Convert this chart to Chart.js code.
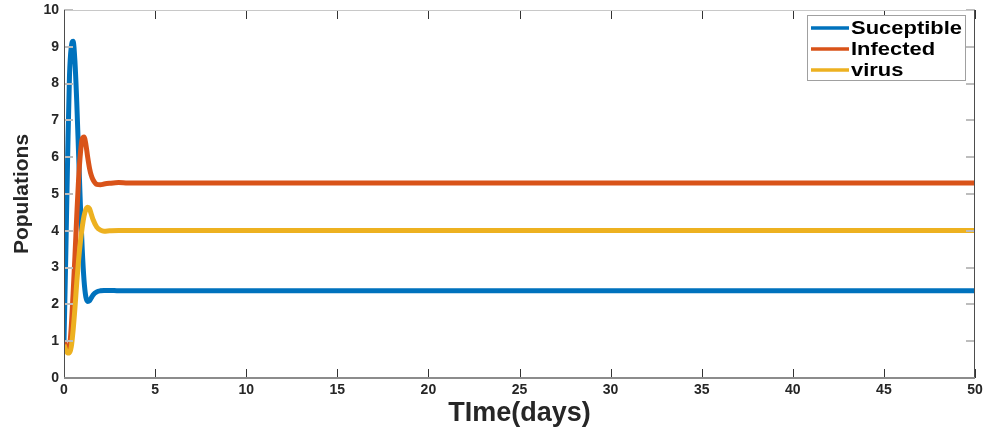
<!DOCTYPE html>
<html>
<head>
<meta charset="utf-8">
<script src="https://cdn.jsdelivr.net/npm/chart.js@4.4.1/dist/chart.umd.min.js"></script>
<style>
html,body{margin:0;padding:0;background:#fff;}
#wrap{width:985px;height:433px;}
</style>
</head>
<body>
<div id="wrap"><canvas id="c" width="985" height="433"></canvas></div>
<script>
// ---- data ----
const time = [0,0.1,0.2,0.3,0.4,0.5,0.6,0.7,0.8,0.9,1.0,1.1,1.2,1.3,1.4,1.5,1.6,1.8,2.0,2.2,2.5,3,3.5,4,5,10,20,30,40,50];
const susceptible = [1,3.4,6.0,8.2,9.0,9.15,8.6,7.5,6.1,4.7,3.5,2.65,2.2,2.08,2.1,2.18,2.26,2.34,2.37,2.38,2.38,2.37,2.37,2.37,2.37,2.37,2.37,2.37,2.37,2.37];
const infected    = [1,0.85,0.8,0.85,1.4,2.3,3.3,4.4,5.4,6.1,6.5,6.55,6.35,6.0,5.7,5.5,5.38,5.26,5.25,5.27,5.29,5.31,5.3,5.3,5.3,5.3,5.3,5.3,5.3,5.3];
const virus       = [0.9,0.75,0.68,0.68,0.85,1.3,1.9,2.6,3.2,3.7,4.1,4.4,4.58,4.64,4.6,4.45,4.3,4.1,4.02,3.99,4.0,4.01,4.01,4.01,4.01,4.01,4.01,4.01,4.01,4.01];
const seriesNames = ['Suceptible','Infected','virus'];
const seriesColors = ['#0072BD','#D95319','#EDB120'];
const xTicks = [0,5,10,15,20,25,30,35,40,45,50];
const yTicks = [0,1,2,3,4,5,6,7,8,9,10];

const FONT = '"Liberation Sans",Arial,Helvetica,sans-serif';

function pts(ys){ return time.map((t,i)=>({x:t,y:ys[i]})); }
const allSeries = [susceptible, infected, virus];

const boxPlugin = {
  id:'boxTicks',
  afterDatasetsDraw(chart){
    const ctx = chart.ctx, a = chart.chartArea;
    const xs = chart.scales.x, ys = chart.scales.y;
    ctx.save();
    // inward ticks
    ctx.lineWidth = 1;
    ctx.strokeStyle = '#333';
    xTicks.forEach(v=>{
      const px = Math.round(xs.getPixelForValue(v))+0.5;
      ctx.beginPath(); ctx.moveTo(px,a.bottom); ctx.lineTo(px,a.bottom-9); ctx.stroke();
      ctx.beginPath(); ctx.moveTo(px,a.top); ctx.lineTo(px,a.top+9); ctx.stroke();
    });
    ctx.strokeStyle = '#bdbdbd';
    ctx.lineWidth = 2;
    yTicks.forEach(v=>{
      const py = Math.round(ys.getPixelForValue(v));
      ctx.beginPath(); ctx.moveTo(a.left,py); ctx.lineTo(a.left+9,py); ctx.stroke();
      ctx.beginPath(); ctx.moveTo(a.right,py); ctx.lineTo(a.right-9,py); ctx.stroke();
    });
    // box
    ctx.lineWidth = 1;
    ctx.strokeStyle = '#c8c8c8';
    ctx.beginPath(); ctx.moveTo(a.left,a.top+0.5); ctx.lineTo(a.right,a.top+0.5); ctx.stroke();
    ctx.strokeStyle = '#4d4d4d';
    ctx.beginPath(); ctx.moveTo(a.right-0.5,a.top); ctx.lineTo(a.right-0.5,a.bottom); ctx.stroke();
    ctx.beginPath(); ctx.moveTo(a.left+0.5,a.top); ctx.lineTo(a.left+0.5,a.bottom); ctx.stroke();
    ctx.strokeStyle = '#8c8c8c';
    ctx.lineWidth = 2;
    ctx.beginPath(); ctx.moveTo(a.left,a.bottom); ctx.lineTo(a.right,a.bottom); ctx.stroke();

    // legend
    const lx = a.right - 168, ly = a.top + 5, lw = 158, lh = 65;
    ctx.fillStyle = '#fff';
    ctx.fillRect(lx,ly,lw,lh);
    ctx.strokeStyle = '#a0a0a0'; ctx.lineWidth = 1;
    ctx.strokeRect(lx+0.5,ly+0.5,lw,lh);
    ctx.textBaseline = 'middle';
    ctx.textAlign = 'left';
    seriesNames.forEach((n,i)=>{
      const yy = ly + 13 + i*21;
      ctx.strokeStyle = seriesColors[i]; ctx.lineWidth = 3.5;
      ctx.beginPath(); ctx.moveTo(lx+4,yy); ctx.lineTo(lx+42,yy); ctx.stroke();
      ctx.save();
      ctx.translate(lx+44, yy+1);
      ctx.scale(1.22,1);
      ctx.font = 'bold 18px ' + FONT;
      ctx.fillStyle = '#000';
      ctx.fillText(n, 0, 0);
      ctx.restore();
    });
    ctx.restore();
  }
};

new Chart(document.getElementById('c'), {
  type:'line',
  data:{
    datasets: allSeries.map((s,i)=>({
      label: seriesNames[i],
      data: pts(s),
      borderColor: seriesColors[i],
      backgroundColor: seriesColors[i],
      borderWidth: 5,
      pointRadius: 0,
      cubicInterpolationMode:'monotone',
      fill:false,
      order: 3-i
    }))
  },
  options:{
    responsive:false,
    animation:false,
    events:[],
    layout:{padding:{top:10,right:10,left:0,bottom:0}},
    plugins:{legend:{display:false},tooltip:{enabled:false}},
    scales:{
      x:{
        type:'linear', min:0, max:50,
        afterBuildTicks(scale){ scale.ticks = xTicks.map(v=>({value:v})); },
        afterFit(scale){ scale.height = 55; scale.paddingLeft = 0; scale.paddingRight = 0; },
        grid:{display:false, drawTicks:false},
        border:{display:false},
        ticks:{color:'#262626', font:{family:FONT, size:14, weight:'bold'}, padding:4, maxRotation:0},
        title:{display:true, text:'TIme(days)', color:'#262626', font:{family:FONT, size:27, weight:'bold'}, padding:{top:0,bottom:3}}
      },
      y:{
        type:'linear', min:0, max:10,
        afterBuildTicks(scale){ scale.ticks = yTicks.map(v=>({value:v})); },
        afterFit(scale){ scale.width = 64; scale.paddingTop = 0; scale.paddingBottom = 0; },
        grid:{display:false, drawTicks:false},
        border:{display:false},
        ticks:{color:'#262626', font:{family:FONT, size:14, weight:'bold'}, padding:5},
        title:{display:true, text:'Populations', color:'#262626', font:{family:FONT, size:21, weight:'bold'}, padding:{top:10,bottom:0}}
      }
    }
  },
  plugins:[boxPlugin]
});
</script>
</body>
</html>
